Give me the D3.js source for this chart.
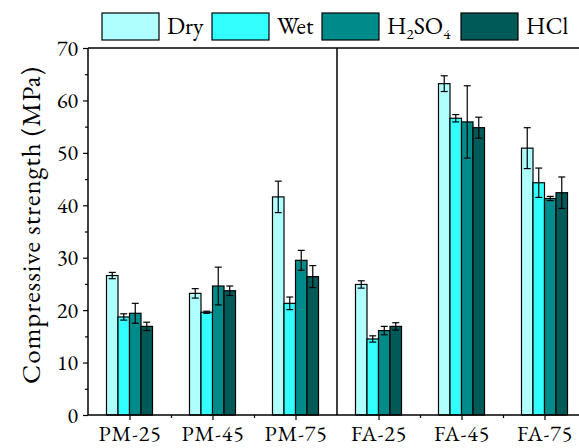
<!DOCTYPE html>
<html lang="en">
<head>
    <meta charset="UTF-8">
    <title>Compressive strength</title>
    <script src="https://d3js.org/d3.v7.min.js"></script>
    <style>
        body, html {
            margin: 0;
            padding: 0;
            background-color: #ffffff;
        }
        svg {
            display: block;
        }
    </style>
</head>
<body>
<svg id="chart" width="579" height="448"></svg>

<script>
    // values
    const categories = ['PM-25', 'PM-45', 'PM-75', 'FA-25', 'FA-45', 'FA-75'];
    const seriesNames = ['Dry', 'Wet', 'H2SO4', 'HCl'];
    const dry = [26.6, 23.2, 41.6, 24.9, 63.2, 50.9];
    const dryErr = [0.6, 0.9, 3.0, 0.7, 1.5, 3.9];
    const wet = [18.7, 19.6, 21.3, 14.5, 56.6, 44.3];
    const wetErr = [0.6, 0.2, 1.2, 0.6, 0.7, 2.8];
    const h2so4 = [19.4, 24.6, 29.5, 16.1, 55.9, 41.3];
    const h2so4Err = [1.9, 3.6, 1.9, 0.8, 6.9, 0.4];
    const hcl = [16.9, 23.7, 26.4, 16.9, 54.8, 42.4];
    const hclErr = [0.8, 0.9, 2.1, 0.7, 2.0, 3.0];
    const yTicks = [0, 10, 20, 30, 40, 50, 60, 70];

    const FONT = "'EB Garamond', serif";
    const colors = ['#b0ffff', '#33ffff', '#008b8b', '#005b58'];
    const series = [
        { name: 'Dry', values: dry, err: dryErr },
        { name: 'Wet', values: wet, err: wetErr },
        { name: 'H2SO4', values: h2so4, err: h2so4Err },
        { name: 'HCl', values: hcl, err: hclErr }
    ];

    const svg = d3.select('#chart');
    const plotLeft = 88, plotTop = 48, plotBottom = 415;

    // categories sit at 1..6, the plot runs from 0.5 to 6.5 (cut at the right edge)
    const x = d3.scaleLinear().domain([0.5, 6.5]).range([plotLeft, 586]);
    const y = d3.scaleLinear().domain([0, 70]).range([plotBottom, plotTop]);
    const barW = 0.1386;

    const g = svg.append('g');

    // bars
    series.forEach((s, j) => {
        const off = (j - 1.5) * barW;
        g.selectAll(null)
            .data(s.values)
            .enter()
            .append('rect')
            .attr('x', (d, i) => x(i + 1 + off - barW / 2))
            .attr('y', d => y(d))
            .attr('width', x(barW) - x(0))
            .attr('height', d => y(0) - y(d))
            .attr('fill', colors[j])
            .attr('stroke', '#000')
            .attr('stroke-width', 1.2);

        // error bars
        const eb = g.selectAll(null)
            .data(s.values.map((v, i) => ({ v: v, e: s.err[i], i: i })))
            .enter()
            .append('g')
            .attr('stroke', '#000')
            .attr('stroke-width', 1.2);
        eb.append('line')
            .attr('x1', d => x(d.i + 1 + off))
            .attr('x2', d => x(d.i + 1 + off))
            .attr('y1', d => y(d.v - d.e))
            .attr('y2', d => y(d.v + d.e));
        [-1, 1].forEach(sg => {
            eb.append('line')
                .attr('x1', d => x(d.i + 1 + off) - 3.5)
                .attr('x2', d => x(d.i + 1 + off) + 3.5)
                .attr('y1', d => y(d.v + sg * d.e))
                .attr('y2', d => y(d.v + sg * d.e));
        });
    });

    // y axis
    const yAxis = g.append('g')
        .attr('transform', `translate(${plotLeft},0)`)
        .call(d3.axisLeft(y).tickValues(yTicks).tickSize(5).tickPadding(5).tickFormat(d3.format('d')));
    yAxis.select('.domain').remove();
    yAxis.selectAll('.tick line').attr('stroke-width', 1.2);
    yAxis.selectAll('text')
        .attr('font-size', 22)
        .attr('fill', '#000')
        .style('font-family', FONT);
    g.append('g')
        .attr('transform', `translate(${plotLeft},0)`)
        .call(d3.axisLeft(y).tickValues(d3.range(5, 70, 10)).tickSize(3).tickFormat(''))
        .call(a => a.select('.domain').remove())
        .selectAll('line').attr('stroke-width', 1.2);

    // x axis
    const xAxis = g.append('g')
        .attr('transform', `translate(0,${plotBottom})`)
        .call(d3.axisBottom(x).tickValues(d3.range(1, 7)).tickSize(5).tickPadding(5)
            .tickFormat(d => categories[d - 1]));
    xAxis.select('.domain').remove();
    xAxis.selectAll('.tick line').attr('stroke-width', 1.2);
    xAxis.selectAll('text')
        .attr('font-size', 22)
        .attr('letter-spacing', 0.8)
        .attr('fill', '#000')
        .style('font-family', FONT);
    g.append('g')
        .attr('transform', `translate(0,${plotBottom})`)
        .call(d3.axisBottom(x).tickValues([1.5, 2.5, 4.5, 5.5]).tickSize(3).tickFormat(''))
        .call(a => a.select('.domain').remove())
        .selectAll('line').attr('stroke-width', 1.2);

    // frame lines and divider
    g.append('line').attr('x1', plotLeft).attr('x2', 579).attr('y1', plotBottom).attr('y2', plotBottom)
        .attr('stroke', '#000').attr('stroke-width', 1.5);
    g.append('line').attr('x1', plotLeft).attr('x2', 579).attr('y1', plotTop).attr('y2', plotTop)
        .attr('stroke', '#000').attr('stroke-width', 1.5);
    g.append('line').attr('x1', plotLeft).attr('x2', plotLeft).attr('y1', plotTop).attr('y2', plotBottom)
        .attr('stroke', '#000').attr('stroke-width', 1.5);
    g.append('line').attr('x1', x(3.5)).attr('x2', x(3.5)).attr('y1', plotTop).attr('y2', plotBottom)
        .attr('stroke', '#000').attr('stroke-width', 1.5);

    // axis title
    svg.append('text')
        .attr('transform', `translate(40,225) rotate(-90)`)
        .attr('text-anchor', 'middle')
        .attr('font-size', 27)
        .attr('letter-spacing', 0.9)
        .style('font-family', FONT)
        .text('Compressive strength (MPa)');

    // legend
    const legX = [102, 212, 322, 461];
    const legend = svg.append('g');
    seriesNames.forEach((name, j) => {
        legend.append('rect')
            .attr('x', legX[j]).attr('y', 13)
            .attr('width', 57).attr('height', 27)
            .attr('fill', colors[j])
            .attr('stroke', '#000')
            .attr('stroke-width', 1.2);
        const t = legend.append('text')
            .attr('x', legX[j] + 65)
            .attr('y', 34)
            .attr('font-size', 24)
            .style('font-family', FONT);
        if (name === 'H2SO4') {
            t.append('tspan').text('H');
            t.append('tspan').text('2').attr('font-size', 15).attr('dy', 5);
            t.append('tspan').text('SO').attr('dy', -5);
            t.append('tspan').text('4').attr('font-size', 15).attr('dy', 5);
        } else {
            t.text(name);
        }
    });
</script>
</body>
</html>
